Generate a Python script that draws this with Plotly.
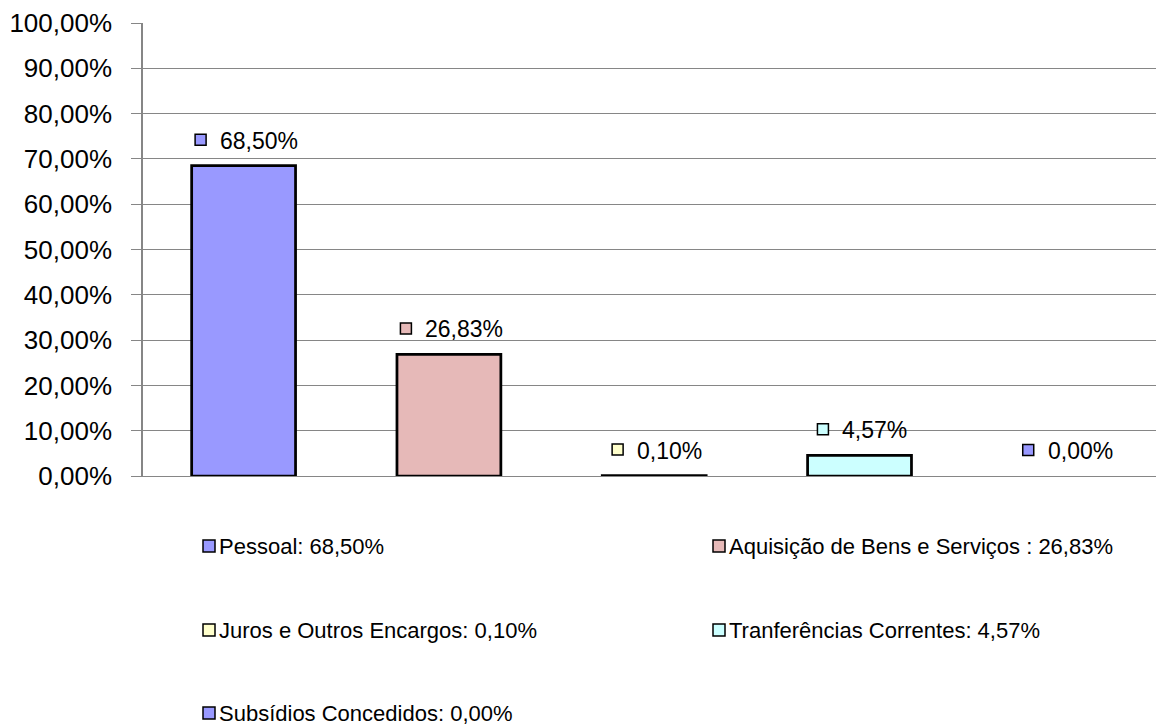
import plotly.graph_objects as go

# Despesas correntes por rubrica (percentagem do total)
categorias = [
    "Pessoal",
    "Aquisição de Bens e Serviços ",
    "Juros e Outros Encargos",
    "Tranferências Correntes",
    "Subsídios Concedidos",
]
valores = [68.50, 26.83, 0.10, 4.57, 0.00]
cores = ["#9999FF", "#E6B9B8", "#FFFFCC", "#CCFFFF", "#9999FF"]

FW, FH = 1156, 726
ML, MR, MT, MB = 143, 0, 23, 250
PW, PH = FW - ML - MR, FH - MT - MB

FONT = "Arial, Liberation Sans, sans-serif"
GRID = "#868686"


def pct(v):
    return f"{v:.2f}".replace(".", ",") + "%"


def px_x(p):
    return (p - ML) / PW


def px_y(p):
    return (FH - MB - p) / PH


# approximate Arial advance widths (em) for label text
_W = {",": 0.278, "%": 0.889, ".": 0.278}


def text_width(s, size):
    return size * sum(_W.get(c, 0.556) for c in s)


xs = list(range(len(categorias)))

fig = go.Figure()
fig.add_trace(go.Bar(
    x=xs,
    y=[v / 100 for v in valores],
    width=0.506,
    marker=dict(
        color=cores,
        # no outline where the bar has no height
        line=dict(color="black", width=[2.75 if v > 0 else 0 for v in valores]),
    ),
    showlegend=False,
    hoverinfo="skip",
))

shapes = []
annotations = []

# data labels: square key + value, centred above each bar
LBL = 23
SQ = 11
for x, v, c in zip(xs, valores, cores):
    txt = pct(v)
    tw = text_width(txt, LBL)
    group = SQ + 14 + tw
    start = -group / 2 + 3
    shapes.append(dict(
        type="rect", xref="x", yref="y",
        xsizemode="pixel", ysizemode="pixel",
        xanchor=x, yanchor=v / 100,
        x0=start, x1=start + SQ, y0=26 - SQ / 2, y1=26 + SQ / 2,
        fillcolor=c, line=dict(color="black", width=1.5), layer="above",
    ))
    annotations.append(dict(
        x=x, y=v / 100, xref="x", yref="y",
        text=txt, showarrow=False,
        xanchor="left", yanchor="middle",
        xshift=start + SQ + 12, yshift=25,
        font=dict(family=FONT, size=LBL, color="black"),
    ))

# legend in two columns below the plot
col_sq = [209, 719]
row_y = [546, 630, 713]
LEG = 22
LSQ = 12
for i, (cat, v, c) in enumerate(zip(categorias, valores, cores)):
    cx = col_sq[i % 2]
    cy = row_y[i // 2]
    shapes.append(dict(
        type="rect", xref="paper", yref="paper",
        xsizemode="pixel", ysizemode="pixel",
        xanchor=px_x(cx), yanchor=px_y(cy),
        x0=-LSQ / 2, x1=LSQ / 2, y0=-LSQ / 2, y1=LSQ / 2,
        fillcolor=c, line=dict(color="black", width=1.5),
    ))
    annotations.append(dict(
        x=px_x(cx + LSQ / 2 + 2), y=px_y(cy), xref="paper", yref="paper",
        text=f"{cat}: {pct(v)}", showarrow=False,
        xanchor="left", yanchor="middle",
        font=dict(family=FONT, size=LEG, color="black"),
    ))

fig.update_layout(
    width=FW, height=FH, autosize=False,
    margin=dict(l=ML, r=MR, t=MT, b=MB, pad=0),
    paper_bgcolor="white", plot_bgcolor="white",
    separators=",.",
    font=dict(family=FONT, color="black"),
    shapes=shapes,
    annotations=annotations,
    xaxis=dict(
        range=[-0.49, 4.444], showticklabels=False, showgrid=False,
        zeroline=False, ticks="", showline=True, linecolor=GRID, linewidth=1.3,
    ),
    yaxis=dict(
        range=[0, 1], dtick=0.1, tick0=0, tickformat=".2%",
        showgrid=True, gridcolor=GRID, gridwidth=1.3,
        showline=True, linecolor=GRID, linewidth=1.5,
        ticks="outside", ticklen=10, tickcolor=GRID, tickwidth=1.3,
        ticklabelstandoff=14,
        tickfont=dict(family=FONT, size=26, color="black"),
        zeroline=False,
    ),
)

fig.write_html("out.html")
